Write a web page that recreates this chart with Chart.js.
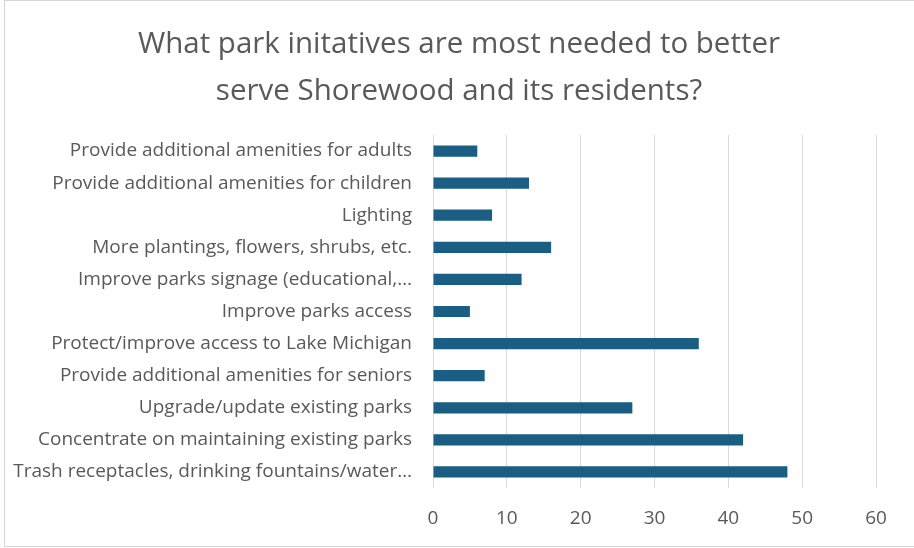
<!DOCTYPE html>
<html>
<head>
<meta charset="utf-8">
<script src="https://cdn.jsdelivr.net/npm/chart.js@4/dist/chart.umd.min.js"></script>
<style>
  html, body { margin: 0; padding: 0; background: #ffffff; }
  #wrap { position: relative; width: 914px; height: 548px; overflow: hidden; }
  canvas { display: block; position: absolute; left: 0; top: 0; }
  #frame { position: absolute; left: 4px; top: 0; width: 920px; height: 545px;
           border: 1px solid #d6d6d6; pointer-events: none; }
</style>
</head>
<body>
<div id="wrap"><canvas id="c" width="914" height="548"></canvas><div id="frame"></div></div>
<script>
const titleLines = ["What park initatives are most needed to better", "serve Shorewood and its residents?"];
const categories = [
  "Provide additional amenities for adults",
  "Provide additional amenities for children",
  "Lighting",
  "More plantings, flowers, shrubs, etc.",
  "Improve parks signage (educational,\u2026",
  "Improve parks access",
  "Protect/improve access to Lake Michigan",
  "Provide additional amenities for seniors",
  "Upgrade/update existing parks",
  "Concentrate on maintaining existing parks",
  "Trash receptacles, drinking fountains/water\u2026"
];
const responses = [6, 13, 8, 16, 12, 5, 36, 7, 27, 42, 48];
const xTicks = [0, 10, 20, 30, 40, 50, 60];

const textColor = "#595959";
const fontFamily = "'Open Sans', 'Liberation Sans', sans-serif";

const titlePlugin = {
  id: "centredTitle",
  afterDraw(chart) {
    const ctx = chart.ctx;
    ctx.save();
    ctx.fillStyle = textColor;
    ctx.font = "29.5px " + fontFamily;
    ctx.textAlign = "center";
    ctx.textBaseline = "alphabetic";
    const baselines = [52.5, 99.5];
    titleLines.forEach((t, i) => ctx.fillText(t, 459, baselines[i]));
    ctx.restore();
  }
};

new Chart(document.getElementById("c"), {
  type: "bar",
  data: {
    labels: categories,
    datasets: [{
      data: responses,
      backgroundColor: "#1b5e83",
      borderWidth: 0,
      categoryPercentage: 1.0,
      barPercentage: 0.35
    }]
  },
  options: {
    indexAxis: "y",
    responsive: false,
    animation: false,
    devicePixelRatio: 1,
    layout: { padding: { left: 0, right: 38, top: 135, bottom: 18 } },
    plugins: {
      legend: { display: false },
      tooltip: { enabled: false },
      title: { display: false }
    },
    scales: {
      x: {
        min: 0,
        max: 60,
        afterBuildTicks: (s) => { s.ticks = xTicks.map(v => ({ value: v })); },
        afterFit: (s) => { s.height = 42; },
        ticks: { color: textColor, font: { family: fontFamily, size: 19 }, padding: 19 },
        grid: { color: "#d9d9d9", lineWidth: 1, drawTicks: false },
        border: { display: false }
      },
      y: {
        afterFit: (s) => { s.width = 433; },
        ticks: { color: textColor, font: { family: fontFamily, size: 19 }, padding: 21, autoSkip: false },
        grid: { display: false, drawTicks: false },
        border: { display: false }
      }
    }
  },
  plugins: [titlePlugin]
});
</script>
</body>
</html>
